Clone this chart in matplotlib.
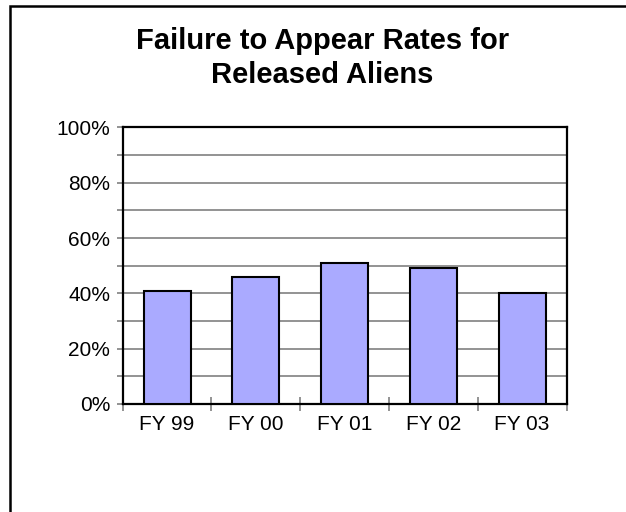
import numpy as np
import matplotlib
matplotlib.use("Agg")
import matplotlib.pyplot as plt
from matplotlib.patches import Rectangle
from matplotlib.ticker import FixedLocator, PercentFormatter

years = ["FY 99", "FY 00", "FY 01", "FY 02", "FY 03"]
fta_rate = [41, 46, 51, 49, 40]   # percent
y_major = [0, 20, 40, 60, 80, 100]
y_minor = [10, 30, 50, 70, 90]

plt.rcParams["font.family"] = ["Liberation Sans", "DejaVu Sans"]
GRAY = "#808080"

fig = plt.figure(figsize=(6.26, 5.12), dpi=100)
ax = fig.add_axes([0.196, 0.211, 0.709, 0.540])

x = np.arange(len(years))
ax.bar(x, fta_rate, width=0.53, color="#aaaaff", edgecolor="black", lw=1.5, zorder=3)

ax.set_ylim(0, 100)
ax.set_xlim(-0.5, len(years) - 0.5)
ax.yaxis.set_major_locator(FixedLocator(y_major))
ax.yaxis.set_minor_locator(FixedLocator(y_minor))
ax.yaxis.set_major_formatter(PercentFormatter(decimals=0))
ax.grid(axis="y", which="both", color=GRAY, lw=1.2, zorder=0)
ax.tick_params(axis="y", which="both", direction="out", length=4, width=1.2,
               color=GRAY, labelsize=15, pad=5)

# category labels at centres, tick marks at the boundaries
ax.xaxis.set_major_locator(FixedLocator(np.arange(-0.5, len(years), 1.0)))
ax.xaxis.set_major_formatter(plt.NullFormatter())
ax.xaxis.set_minor_locator(FixedLocator(x))
ax.set_xticklabels(years, minor=True)
ax.tick_params(axis="x", which="major", direction="inout", length=9.5, width=1.2, color=GRAY)
ax.tick_params(axis="x", which="minor", length=0, labelsize=15, pad=8)

for s in ax.spines.values():
    s.set_color("black"); s.set_linewidth(1.6)

fig.text(0.515, 0.948, "Failure to Appear Rates for\nReleased Aliens", ha="center", va="top",
         fontsize=21, fontweight="bold", linespacing=1.3)

# outer chart frame (right and bottom edges fall outside the image)
fig.add_artist(Rectangle((9.5 / 626, -0.1), 1.2, 1.1 - 5.5 / 512, transform=fig.transFigure,
                         fill=False, ec="black", lw=1.8))

fig.savefig("out.png", dpi=100)
